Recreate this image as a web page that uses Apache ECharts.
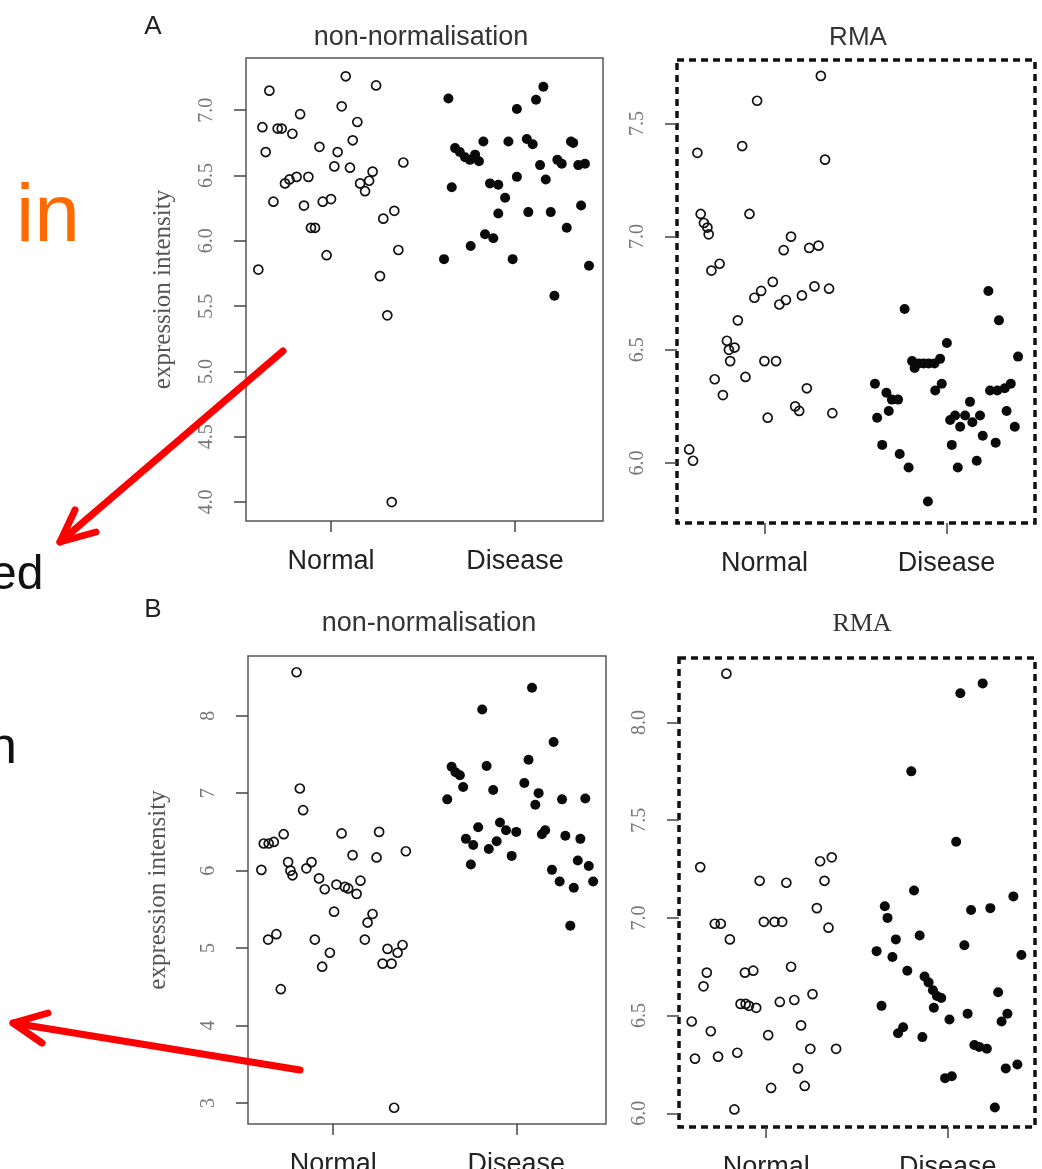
<!DOCTYPE html>
<html>
<head>
<meta charset="utf-8">
<title>expression intensity</title>
<script src="https://cdn.jsdelivr.net/npm/echarts@6.0.0/dist/echarts.min.js"></script>
<style>
  html, body { margin: 0; padding: 0; background: #fff; }
  #chart { width: 1042px; height: 1169px; }
</style>
</head>
<body>
<div id="chart"></div>
<script>
const groups = ['Normal', 'Disease']
const groupTicks = [1, 2]

// tick labels of the four y axes
const ticksA1 = [4.0, 4.5, 5.0, 5.5, 6.0, 6.5, 7.0]
const ticksA2 = [6.0, 6.5, 7.0, 7.5]
const ticksB1 = [3, 4, 5, 6, 7, 8]
const ticksB2 = [6.0, 6.5, 7.0, 7.5, 8.0]

// [jittered group position, expression intensity]
const rawNormalA = [
  [0.605, 5.78], [0.665, 7.15], [0.627, 6.87], [0.645, 6.68], [0.71, 6.86], [0.732, 6.86],
  [0.79, 6.82], [0.832, 6.97], [0.687, 6.30], [0.75, 6.44], [0.774, 6.47], [0.813, 6.49],
  [0.877, 6.49], [0.853, 6.27], [0.891, 6.10], [0.913, 6.10], [0.937, 6.72], [0.955, 6.30],
  [1.0, 6.32], [0.976, 5.89], [1.018, 6.57], [1.036, 6.68], [1.058, 7.03], [1.08, 7.26],
  [1.103, 6.56], [1.118, 6.77], [1.143, 6.91], [1.158, 6.44], [1.185, 6.38], [1.207, 6.46],
  [1.226, 6.53], [1.245, 7.19], [1.266, 5.73], [1.284, 6.17], [1.344, 6.23], [1.306, 5.43],
  [1.366, 5.93], [1.393, 6.60], [1.33, 4.0]
]
const rawDiseaseA = [
  [1.638, 7.09], [1.656, 6.41], [1.614, 5.86], [1.674, 6.71], [1.70, 6.68], [1.728, 6.64],
  [1.755, 6.62], [1.783, 6.66], [1.804, 6.61], [1.828, 6.76], [1.759, 5.96], [1.837, 6.05],
  [1.882, 6.02], [1.864, 6.44], [1.909, 6.43], [1.946, 6.33], [1.909, 6.21], [1.964, 6.76],
  [1.987, 5.86], [2.01, 7.01], [2.01, 6.49], [2.154, 7.18], [2.114, 7.08], [2.064, 6.78],
  [2.096, 6.74], [2.136, 6.58], [2.167, 6.47], [2.23, 6.62], [2.254, 6.59], [2.304, 6.76],
  [2.316, 6.75], [2.344, 6.58], [2.38, 6.59], [2.072, 6.22], [2.194, 6.22], [2.281, 6.10],
  [2.359, 6.27], [2.402, 5.81], [2.214, 5.58]
]
const rmaNormalA = [
  [0.587, 6.06], [0.608, 6.01], [0.632, 7.37], [0.65, 7.10], [0.668, 7.06], [0.687, 7.04],
  [0.694, 7.01], [0.709, 6.85], [0.754, 6.88], [0.727, 6.37], [0.772, 6.30], [0.794, 6.54],
  [0.805, 6.50], [0.836, 6.51], [0.812, 6.45], [0.854, 6.63], [0.878, 7.40], [0.896, 6.38],
  [0.918, 7.10], [0.96, 7.60], [0.945, 6.73], [0.982, 6.76], [1.046, 6.80], [1.0, 6.45],
  [1.064, 6.45], [1.018, 6.20], [1.106, 6.94], [1.146, 7.00], [1.082, 6.70], [1.118, 6.72],
  [1.206, 6.74], [1.246, 6.95], [1.275, 6.78], [1.297, 6.96], [1.31, 7.71], [1.333, 7.34],
  [1.355, 6.77], [1.169, 6.25], [1.191, 6.23], [1.233, 6.33], [1.373, 6.22]
]
const rmaDiseaseA = [
  [1.607, 6.35], [1.67, 6.31], [1.70, 6.28], [1.734, 6.28], [1.683, 6.23], [1.619, 6.20],
  [1.647, 6.08], [1.743, 6.04], [1.792, 5.98], [1.898, 5.83], [1.77, 6.68], [1.811, 6.45],
  [1.825, 6.42], [1.847, 6.44], [1.874, 6.44], [1.902, 6.44], [1.934, 6.44], [1.965, 6.46],
  [2.002, 6.53], [1.974, 6.35], [1.938, 6.32], [2.02, 6.19], [2.047, 6.21], [2.075, 6.16],
  [2.102, 6.21], [2.129, 6.27], [2.142, 6.18], [2.184, 6.21], [2.029, 6.08], [2.062, 5.98],
  [2.166, 6.01], [2.199, 6.12], [2.27, 6.09], [2.23, 6.76], [2.288, 6.63], [2.239, 6.32],
  [2.279, 6.32], [2.32, 6.33], [2.353, 6.35], [2.33, 6.23], [2.375, 6.16], [2.393, 6.47]
]
const rawNormalB = [
  [0.608, 6.01], [0.621, 6.35], [0.648, 6.35], [0.676, 6.37], [0.73, 6.47], [0.80, 8.56],
  [0.818, 7.06], [0.836, 6.78], [0.754, 6.11], [0.767, 6.00], [0.778, 5.94], [0.854, 6.03],
  [0.882, 6.11], [0.923, 5.90], [0.954, 5.76], [1.005, 5.47], [1.018, 5.82], [1.046, 6.48],
  [1.064, 5.79], [1.082, 5.77], [1.106, 6.20], [1.128, 5.70], [1.149, 5.87], [0.645, 5.11],
  [0.69, 5.18], [0.714, 4.47], [0.90, 5.11], [0.982, 4.94], [0.94, 4.76], [1.173, 5.11],
  [1.188, 5.33], [1.215, 5.44], [1.237, 6.17], [1.251, 6.50], [1.27, 4.80], [1.297, 4.99],
  [1.319, 4.80], [1.352, 4.94], [1.379, 5.04], [1.397, 6.25], [1.333, 2.94]
]
const rawDiseaseB = [
  [1.623, 6.92], [1.647, 7.34], [1.668, 7.27], [1.692, 7.23], [1.71, 7.08], [1.814, 8.08],
  [1.838, 7.35], [1.874, 7.04], [1.792, 6.56], [1.725, 6.41], [1.765, 6.33], [1.752, 6.08],
  [1.85, 6.28], [1.893, 6.38], [1.911, 6.62], [1.944, 6.52], [1.975, 6.19], [2.0, 6.50],
  [2.086, 8.36], [2.204, 7.66], [2.067, 7.43], [2.044, 7.13], [2.122, 7.00], [2.104, 6.85],
  [2.25, 6.92], [2.377, 6.93], [2.14, 6.47], [2.158, 6.52], [2.268, 6.45], [2.35, 6.41],
  [2.195, 6.01], [2.237, 5.86], [2.314, 5.78], [2.336, 6.13], [2.396, 6.06], [2.42, 5.86],
  [2.295, 5.29]
]
const rmaNormalB = [
  [0.781, 8.25], [0.637, 7.26], [0.59, 6.47], [0.608, 6.28], [0.695, 6.42], [0.735, 6.29],
  [0.655, 6.65], [0.673, 6.72], [0.717, 6.97], [0.75, 6.97], [0.80, 6.89], [0.825, 6.02],
  [0.841, 6.31], [0.859, 6.56], [0.887, 6.56], [0.905, 6.55], [0.883, 6.72], [0.929, 6.73],
  [0.945, 6.54], [0.964, 7.19], [0.987, 6.98], [1.046, 6.98], [1.088, 6.98], [1.011, 6.40],
  [1.027, 6.13], [1.075, 6.57], [1.111, 7.18], [1.137, 6.75], [1.155, 6.58], [1.175, 6.23],
  [1.192, 6.45], [1.212, 6.14], [1.243, 6.33], [1.255, 6.61], [1.279, 7.05], [1.297, 7.29],
  [1.321, 7.19], [1.343, 6.95], [1.361, 7.31], [1.385, 6.33]
]
const rmaDiseaseB = [
  [1.608, 6.83], [1.635, 6.55], [1.653, 7.06], [1.668, 7.00], [1.695, 6.80], [1.714, 6.89],
  [1.726, 6.41], [1.754, 6.44], [1.777, 6.73], [1.799, 7.75], [1.814, 7.14], [1.845, 6.91],
  [1.86, 6.39], [1.872, 6.70], [1.894, 6.67], [1.918, 6.63], [1.94, 6.60], [1.964, 6.59],
  [1.923, 6.54], [1.985, 6.18], [2.022, 6.19], [2.009, 6.48], [2.046, 7.39], [2.069, 8.15],
  [2.091, 6.86], [2.109, 6.51], [2.128, 7.04], [2.146, 6.35], [2.173, 6.34], [2.192, 8.20],
  [2.215, 6.33], [2.234, 7.05], [2.259, 6.03], [2.277, 6.62], [2.296, 6.47], [2.328, 6.51],
  [2.319, 6.23], [2.383, 6.25], [2.361, 7.11], [2.405, 6.81]
]

const panels = [
  { grid: { left: 246, top: 58, width: 357, height: 463 }, dashed: false,
    x: [0.538, 2.478], y: [3.855, 7.40], ticks: ticksA1, digits: 1, named: true, nameGap: 70,
    normal: rawNormalA, disease: rawDiseaseA },
  { grid: { left: 677, top: 60, width: 358, height: 463 }, dashed: true,
    x: [0.52, 2.486], y: [5.735, 7.78], ticks: ticksA2, digits: 1, named: false, nameGap: 70,
    normal: rmaNormalA, disease: rmaDiseaseA },
  { grid: { left: 248, top: 656, width: 358, height: 468 }, dashed: false,
    x: [0.535, 2.49], y: [2.73, 8.77], ticks: ticksB1, digits: 0, named: true, nameGap: 77,
    normal: rawNormalB, disease: rawDiseaseB },
  { grid: { left: 679, top: 658, width: 356, height: 469 }, dashed: true,
    x: [0.52, 2.48], y: [5.93, 8.33], ticks: ticksB2, digits: 1, named: false, nameGap: 70,
    normal: rmaNormalB, disease: rmaDiseaseB }
]

const tickLine = { color: '#444', width: 1.5 }

const chart = echarts.init(document.getElementById('chart'), null, { renderer: 'canvas' })

function text (x, y, str, font, color, align, valign) {
  return {
    type: 'text', x: x, y: y, z: 50,
    style: { text: str, font: font, fill: color || '#222', textAlign: align || 'center', textVerticalAlign: valign || 'middle' }
  }
}

function arrow (points) {
  return {
    type: 'polyline', z: 100,
    shape: { points: points },
    style: { stroke: '#ff0000', lineWidth: 7, lineCap: 'round', lineJoin: 'round', fill: null }
  }
}

chart.setOption({
  animation: false,
  backgroundColor: '#fff',
  grid: panels.map(p => Object.assign({
    show: true,
    outerBoundsMode: 'none',
    backgroundColor: 'transparent',
    borderColor: p.dashed ? '#111' : '#555',
    borderWidth: p.dashed ? 3.5 : 1.5,
    borderType: p.dashed ? [7, 5] : 'solid'
  }, p.grid)),
  xAxis: panels.map((p, i) => ({
    type: 'value', gridIndex: i, min: p.x[0], max: p.x[1],
    axisLine: { show: false },
    splitLine: { show: false },
    axisTick: { show: true, customValues: groupTicks, length: 11, lineStyle: tickLine },
    axisLabel: {
      customValues: groupTicks, margin: 27,
      formatter: v => groups[Math.round(v) - 1],
      fontFamily: 'Liberation Sans', fontSize: 27, color: '#222'
    }
  })),
  yAxis: panels.map((p, i) => ({
    type: 'value', gridIndex: i, min: p.y[0], max: p.y[1],
    axisLine: { show: false },
    splitLine: { show: false },
    axisTick: { show: true, customValues: p.ticks, length: 12, lineStyle: tickLine },
    axisLabel: {
      customValues: p.ticks, rotate: 90, margin: 29,
      formatter: v => v.toFixed(p.digits),
      fontFamily: 'Liberation Serif', fontSize: 20, color: '#777'
    },
    name: p.named ? 'expression intensity' : '',
    nameLocation: 'middle',
    nameGap: p.nameGap,
    nameTextStyle: { fontFamily: 'Liberation Serif', fontSize: 25, color: '#555' }
  })),
  series: panels.flatMap((p, i) => [{
    type: 'scatter', xAxisIndex: i, yAxisIndex: i, silent: true,
    data: p.normal, symbol: 'circle', symbolSize: 9,
    itemStyle: { color: 'rgba(0,0,0,0)', borderColor: '#111', borderWidth: 1.7, opacity: 1 }
  }, {
    type: 'scatter', xAxisIndex: i, yAxisIndex: i, silent: true,
    data: p.disease, symbol: 'circle', symbolSize: 10,
    itemStyle: { color: '#0a0a0a', opacity: 1 }
  }]),
  graphic: [
    text(153, 27, 'A', '26px "Liberation Sans"', '#222'),
    text(153, 610, 'B', '26px "Liberation Sans"', '#222'),
    text(421, 38, 'non-normalisation', '27px "Liberation Sans"', '#333'),
    text(858, 38, 'RMA', '26px "Liberation Sans"', '#333'),
    text(429, 624, 'non-normalisation', '27px "Liberation Sans"', '#333'),
    text(862, 624, 'RMA', '26px "Liberation Serif"', '#333'),
    text(16, 177, 'in', '82px "Liberation Sans"', '#ff6a00', 'left', 'top'),
    text(-10, 552, 'ed', '48px "Liberation Sans"', '#111', 'left', 'top'),
    text(-12, 723, 'n', '52px "Liberation Sans"', '#111', 'left', 'top'),
    arrow([[283, 351], [60, 542]]),
    arrow([[75, 510], [60, 542], [96, 532]]),
    arrow([[300, 1070], [13, 1023]]),
    arrow([[48, 1013], [13, 1023], [42, 1043]])
  ]
})
</script>
</body>
</html>
